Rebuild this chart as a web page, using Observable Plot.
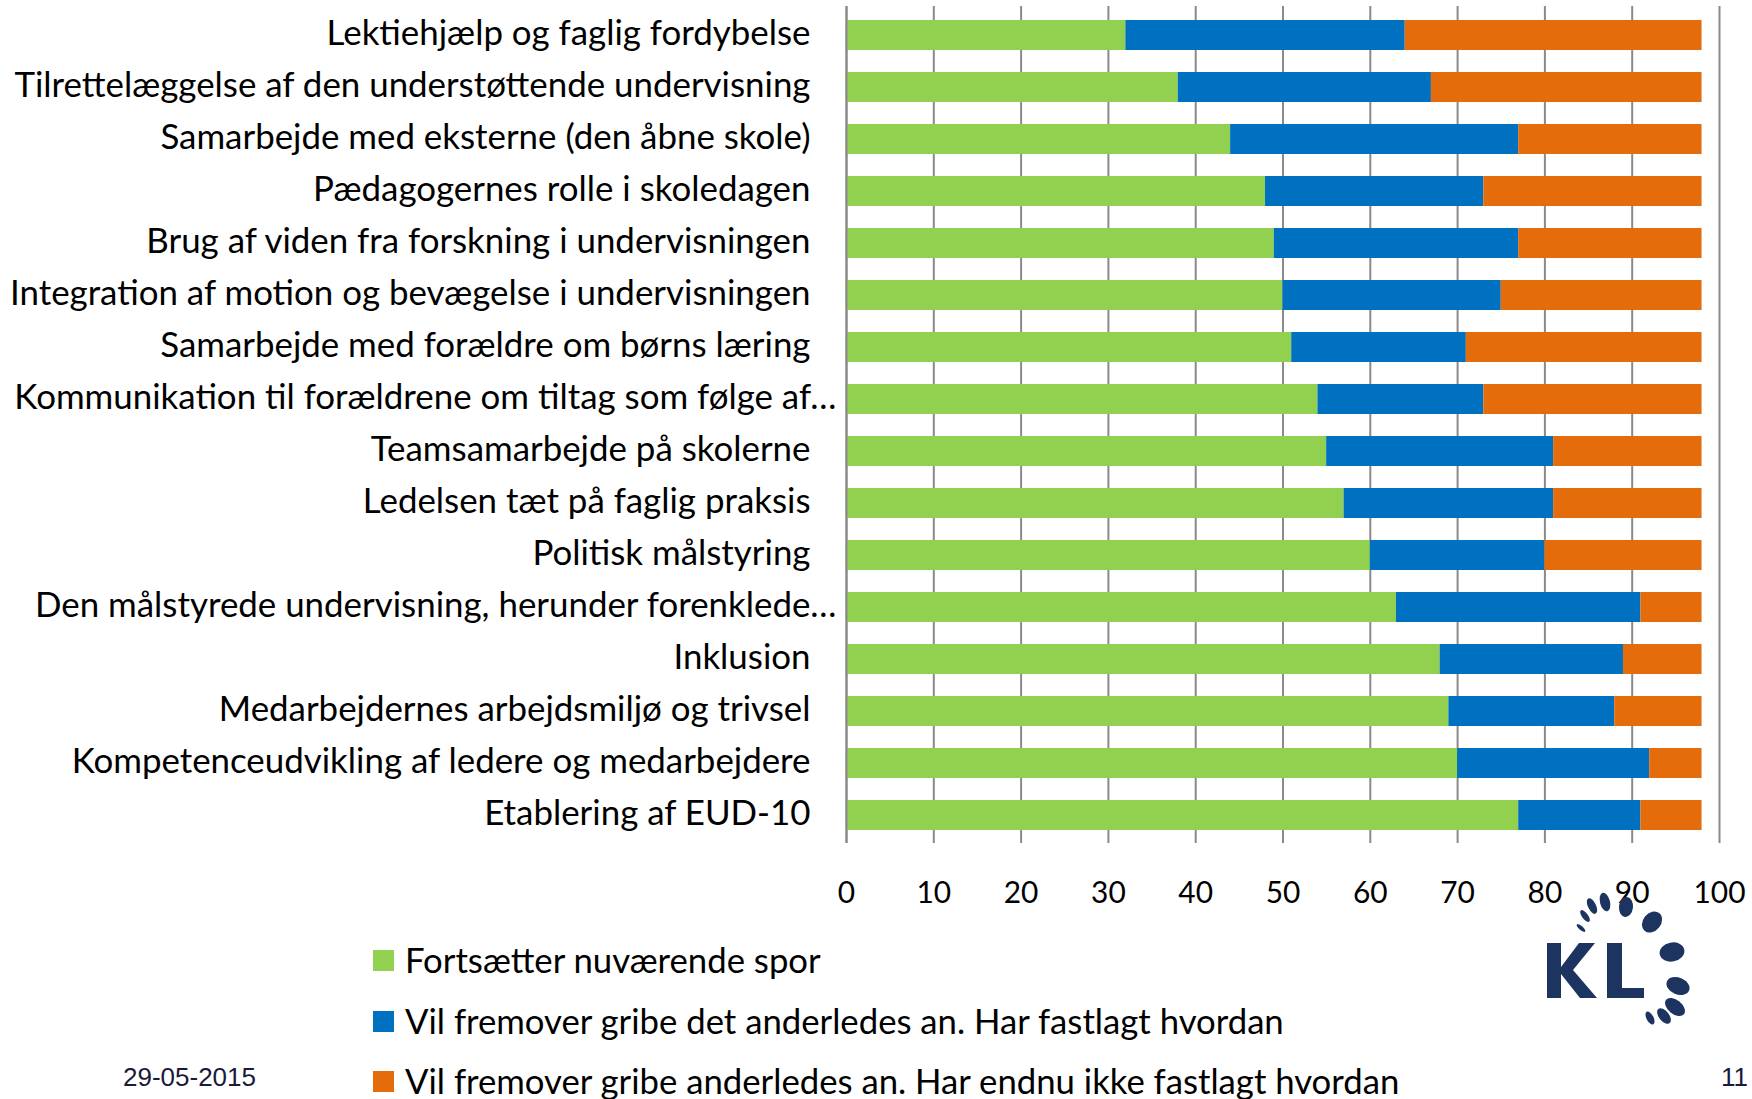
<!DOCTYPE html>
<html>
<head>
<meta charset="utf-8">
<script src="https://cdn.jsdelivr.net/npm/d3@7"></script>
<script src="https://cdn.jsdelivr.net/npm/@observablehq/plot@0.6"></script>
<style>
html,body{margin:0;padding:0;background:#fff;}
body{width:1752px;height:1099px;overflow:hidden;position:relative;font-family:Lato,sans-serif;}
#chart{position:absolute;left:0;top:0;}
.leg{position:absolute;left:373px;height:30px;display:flex;align-items:center;white-space:nowrap;color:#000;font-family:Lato,sans-serif;line-height:1;}
.leg span{line-height:1;}
.sw{width:21px;height:21px;margin-right:11px;flex:none;}
.foot{position:absolute;font-family:"Liberation Sans",Arial,sans-serif;font-size:26px;line-height:30px;color:#1a1a3c;white-space:nowrap;}
#logo{position:absolute;left:1520px;top:870px;}
</style>
</head>
<body>
<div id="chart"></div>
<div id="legend"></div>
<div class="foot" style="left:123px;top:1062px;">29-05-2015</div>
<div class="foot" style="left:1721px;top:1062px;">11</div>
<svg id="logo" width="232" height="170" viewBox="0 0 232 170"></svg>
<script>
const categories = [
  "Lektiehjælp og faglig fordybelse",
  "Tilrettelæggelse af den understøttende undervisning",
  "Samarbejde med eksterne (den åbne skole)",
  "Pædagogernes rolle i skoledagen",
  "Brug af viden fra forskning i undervisningen",
  "Integration af motion og bevægelse i undervisningen",
  "Samarbejde med forældre om børns læring",
  "Kommunikation til forældrene om tiltag som følge af…",
  "Teamsamarbejde på skolerne",
  "Ledelsen tæt på faglig praksis",
  "Politisk målstyring",
  "Den målstyrede undervisning, herunder forenklede…",
  "Inklusion",
  "Medarbejdernes arbejdsmiljø og trivsel",
  "Kompetenceudvikling af ledere og medarbejdere",
  "Etablering af EUD-10"
];
const green  = [32, 38, 44, 48, 49, 50, 51, 54, 55, 57, 60, 63, 68, 69, 70, 77];
const blue   = [32, 29, 33, 25, 28, 25, 20, 19, 26, 24, 20, 28, 21, 19, 22, 14];
const orange = [34, 31, 21, 25, 21, 23, 27, 25, 17, 17, 18,  7,  9, 10,  6,  7];
const seriesNames = [
  "Fortsætter nuværende spor",
  "Vil fremover gribe det anderledes an. Har fastlagt hvordan",
  "Vil fremover gribe anderledes an. Har endnu ikke fastlagt hvordan"
];
const colors = ["#92d050", "#0070c0", "#e46c0a"];
const xTicks = [0, 10, 20, 30, 40, 50, 60, 70, 80, 90, 100];

// font sizing by measured width
const cnv = document.createElement("canvas").getContext("2d");
function fit(text, target, fam) {
  cnv.font = "100px " + fam;
  return 100 * target / cnv.measureText(text).width;
}
const labelFs = fit("Tilrettelæggelse af den understøttende undervisning", 797, "Lato");
const legendFs = fit(seriesNames[2], 996, "Lato");
const tickFs = fit("100", 52, "Lato");

const series = [green, blue, orange];
const rows = [];
categories.forEach((c, i) => series.forEach((arr, k) => rows.push({cat: c, series: seriesNames[k], value: arr[i]})));

const isTrunc = c => c.endsWith("…");

const plot = Plot.plot({
  width: 1752,
  height: 930,
  marginTop: 6,
  marginBottom: 87,
  marginLeft: 846,
  marginRight: 33,
  style: {fontFamily: "Lato", fontSize: labelFs + "px", color: "#000", background: "#fff"},
  x: {domain: [0, 100], ticks: xTicks, label: null},
  y: {domain: categories, paddingInner: 0.4267, paddingOuter: 0.211, axis: null, label: null},
  color: {domain: seriesNames, range: colors},
  marks: [
    Plot.gridX(xTicks, {stroke: "#8a8a8a", strokeOpacity: 1, strokeWidth: 2}),
    Plot.barX(rows, Plot.stackX({y: "cat", x: "value", fill: "series", order: seriesNames})),
    Plot.ruleX([0], {stroke: "#8a8a8a", strokeWidth: 2}),
    Plot.axisX({ticks: xTicks, tickSize: 0, tickPadding: 38, fontSize: tickFs, tickFormat: d => String(d), label: null}),
    Plot.text(categories.filter(c => !isTrunc(c)), {y: d => d, x: () => 0, textAnchor: "end", dx: -36, dy: -2, fontSize: labelFs, fill: "#000"}),
    Plot.text(categories.filter(isTrunc), {y: d => d, x: () => 0, textAnchor: "end", dx: -10, dy: -2, fontSize: labelFs, fill: "#000"})
  ]
});
document.getElementById("chart").appendChild(plot);

// legend
const legendCenters = [960, 1021, 1081];
const leg = document.getElementById("legend");
seriesNames.forEach((s, i) => {
  const d = document.createElement("div");
  d.className = "leg";
  d.style.top = (legendCenters[i] - 15) + "px";
  d.style.fontSize = legendFs + "px";
  d.innerHTML = `<div class="sw" style="background:${colors[i]}"></div><span>${s}</span>`;
  leg.appendChild(d);
});

// KL logo (decoration)
const logo = d3.select("#logo");
const navy = "#1d3461";
logo.append("path").attr("fill", navy)
  .attr("d", "M27,73 L41,73 L41,97 L59,73 L75,73 L53,100 L77,128 L60,128 L41,104 L41,128 L27,128 Z");
logo.append("path").attr("fill", navy)
  .attr("d", "M87,73 L102,73 L102,118 L124,118 L124,128 L87,128 Z");
const dashes = [
  [61, 58, 11, 4], [65, 46, 14, 6], [72, 36, 17, 8], [85, 32, 19, 10], [106, 37, 20, 14],
  [132, 52, 23, 18], [152, 82, 25, 19], [158, 116, 24, 17], [155, 137, 23, 14],
  [144, 146, 18, 10], [130, 148, 14, 7]
];
dashes.forEach(([cx, cy, L, W]) => {
  const ang = Math.atan2(cy - 92, cx - 100) * 180 / Math.PI;
  logo.append("ellipse").attr("fill", navy)
    .attr("cx", 0).attr("cy", 0).attr("rx", L / 2).attr("ry", W / 2)
    .attr("transform", `translate(${cx},${cy}) rotate(${ang})`);
});
</script>
</body>
</html>
